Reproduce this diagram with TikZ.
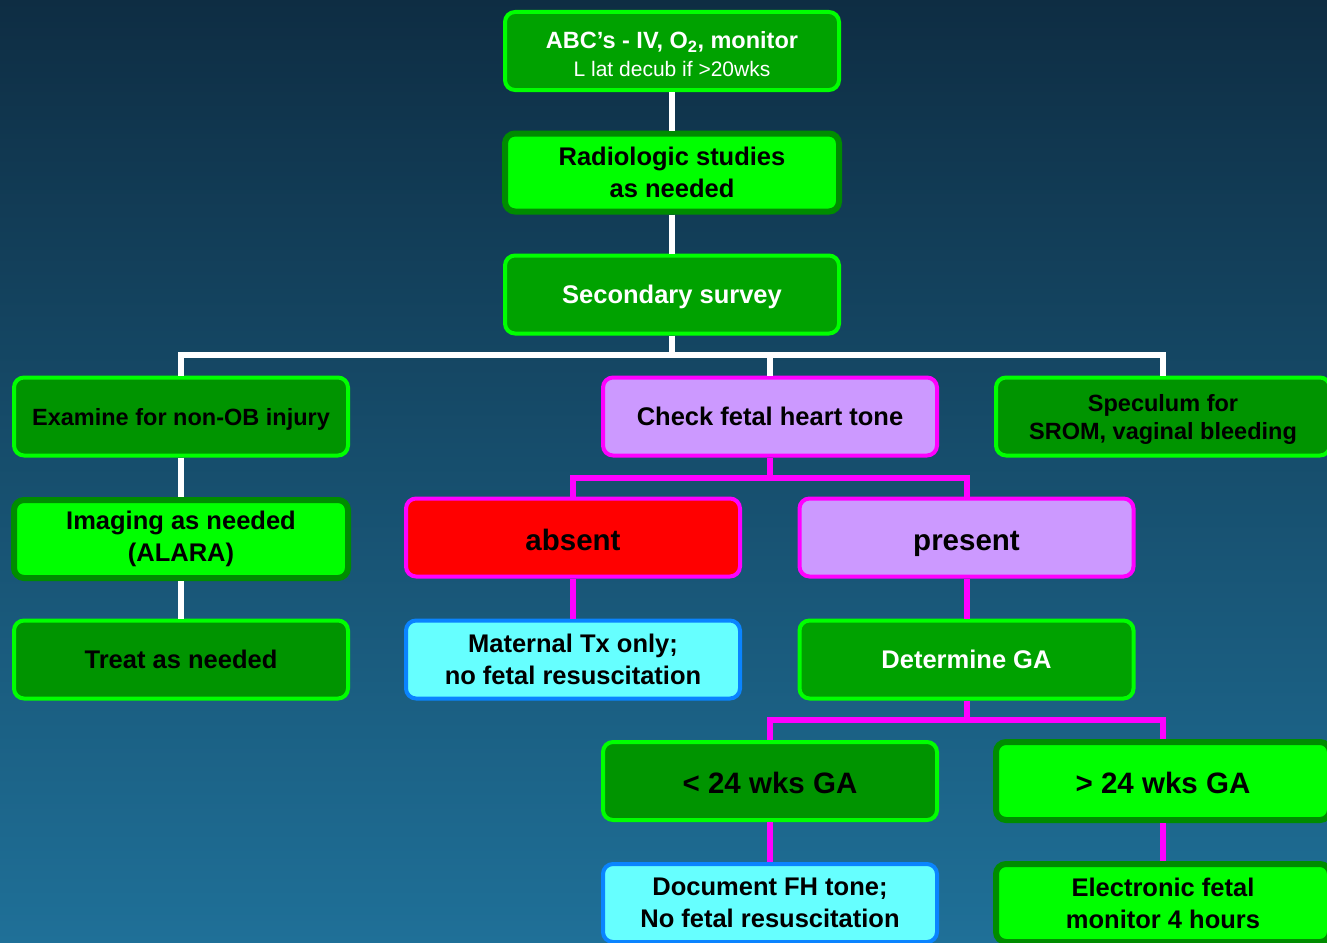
\documentclass[tikz,border=0pt]{standalone}
\usepackage{fontspec}
\setmainfont{Liberation Sans}
\usepackage{tikz}
\usetikzlibrary{shapes}
\definecolor{bgtop}{RGB}{14,45,67}
\definecolor{bgbot}{RGB}{31,112,152}
\definecolor{wgreen}{RGB}{0,162,0}
\definecolor{dgreen}{RGB}{0,148,0}
\definecolor{lgreen}{RGB}{0,255,0}
\definecolor{edgegreen}{RGB}{0,140,0}
\definecolor{lav}{RGB}{204,153,255}
\definecolor{mag}{RGB}{255,0,255}
\definecolor{aqua}{RGB}{102,255,255}
\definecolor{aquaedge}{RGB}{10,132,255}
\tikzset{
  fbox/.style={rectangle, rounded corners=10pt, minimum width=334pt, minimum height=78pt,
    inner sep=0pt, align=center, line width=4pt, text=black,
    font=\bfseries\fontsize{25.5}{32}\selectfont},
  whitebox/.style={fbox, fill=wgreen, draw=lgreen, text=white},
  darkbox/.style={fbox, fill=dgreen, draw=lgreen},
  limebox/.style={fbox, fill=lgreen, draw=edgegreen, line width=6pt},
  lavbox/.style={fbox, fill=lav, draw=mag},
  redbox/.style={fbox, fill=red, draw=mag},
  aquabox/.style={fbox, fill=aqua, draw=aquaedge},
  one/.style={text height=17pt, text depth=0pt},
  small/.style={font=\bfseries\fontsize{23.5}{28}\selectfont},
  smallone/.style={small, text height=17pt, text depth=0pt},
  big/.style={font=\bfseries\fontsize{29.5}{34}\selectfont, text height=25pt, text depth=0pt},
  wline/.style={draw=white, line width=6pt},
  mline/.style={draw=mag, line width=6pt}
}
\newcommand{\flowbox}[4] {\node at (#1) (#2) [#3] {#4};}
\newcommand{\wlink}[2] {\draw [wline] (#1) -- (#2);}
\newcommand{\mlink}[2] {\draw [mline] (#1) -- (#2);}

\begin{document}
\begin{tikzpicture}[x=1pt, y=-1pt]
\useasboundingbox (0,0) rectangle (1327,942);
\clip (0,0) rectangle (1327,942);
\shade [top color=bgtop, bottom color=bgbot] (0,0) rectangle (1327,942);

\flowbox {672,51}{abc}{whitebox}{\rule{0pt}{23pt}{\fontsize{23.5}{28}\selectfont ABC’s - IV, O\textsubscript{2}, monitor}\\[-4pt]{\mdseries\fontsize{21}{24}\selectfont L lat decub if >20wks}}
\flowbox {672,172.5}{radio}{limebox}{Radiologic studies\\as needed}
\flowbox {672,294.5}{sec}{whitebox, one}{Secondary survey}
\flowbox {181,416.5}{exam}{darkbox, smallone}{Examine for non-OB injury}
\flowbox {181,539}{img}{limebox}{Imaging as needed\\(ALARA)}
\flowbox {181,659.5}{treat}{darkbox, one}{Treat as needed}
\flowbox {770,416.5}{fht}{lavbox, one}{Check fetal heart tone}
\flowbox {1163,416.5}{spec}{darkbox, small}{\rule{0pt}{22pt}Speculum for\\SROM, vaginal bleeding}
\flowbox {573,537.5}{absent}{redbox, big}{absent}
\flowbox {966.5,537.5}{present}{lavbox, big}{present}
\flowbox {573,659.5}{mat}{aquabox}{Maternal Tx only;\\no fetal resuscitation}
\flowbox {966.5,659.5}{ga}{whitebox, one}{Determine GA}
\flowbox {770,781}{under}{darkbox, big}{< 24 wks GA}
\flowbox {1163,781}{over}{limebox, big}{> 24 wks GA}
\flowbox {770,903}{doc}{aquabox}{Document FH tone;\\No fetal resuscitation}
\flowbox {1163,903}{efm}{limebox}{Electronic fetal\\monitor 4 hours}

\coordinate (wbar) at (672,355);
\coordinate (mbar1) at (770,478);
\coordinate (mbar2) at (966.5,720);

\wlink {abc.south}{radio.north}
\wlink {radio.south}{sec.north}
\wlink {sec.south}{wbar}
\draw [wline] (exam.north) |- (wbar) -| (spec.north);
\wlink {fht.north}{fht.north |- wbar}
\wlink {exam.south}{img.north}
\wlink {img.south}{treat.north}
\mlink {fht.south}{mbar1}
\draw [mline] (absent.north) |- (mbar1) -| (present.north);
\mlink {absent.south}{mat.north}
\mlink {present.south}{ga.north}
\mlink {ga.south}{mbar2}
\draw [mline] (under.north) |- (mbar2) -| (over.north);
\mlink {under.south}{doc.north}
\mlink {over.south}{efm.north}
\end{tikzpicture}
\end{document}
